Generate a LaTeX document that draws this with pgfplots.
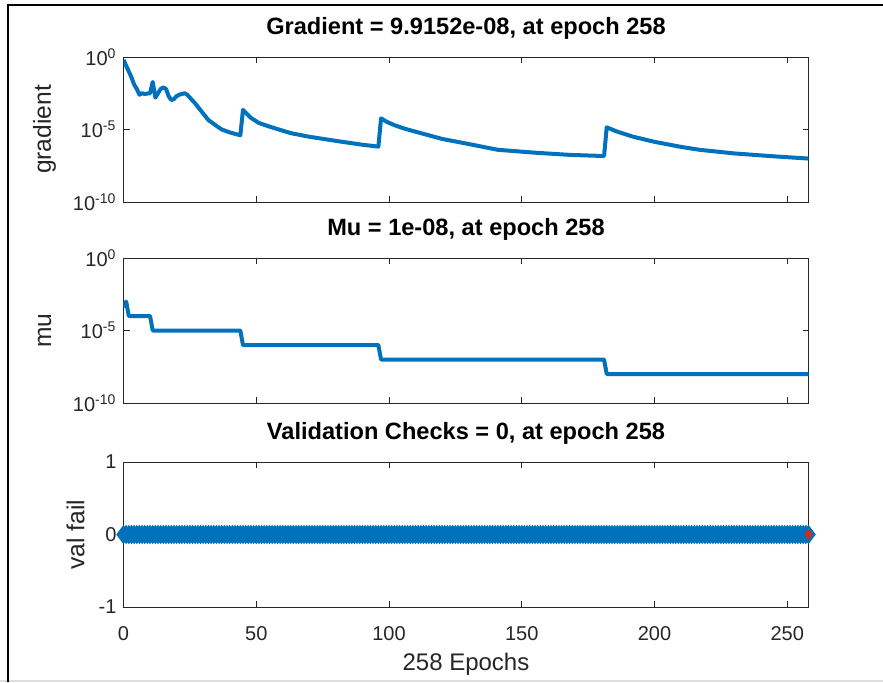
\documentclass[border=0pt]{standalone}
\usepackage{fontspec}
\setmainfont{Liberation Sans}
\usepackage{pgfplots}
\pgfplotsset{compat=1.18}
\definecolor{mblue}{RGB}{0,114,189}
\definecolor{mgray}{RGB}{38,38,38}
\definecolor{mred}{RGB}{205,45,30}
\pgfplotsset{
 mstyle/.style={
  scale only axis, width=342.5pt, height=72.5pt, anchor=south west,
  xmin=0, xmax=258, xtick={0,50,100,150,200,250},
  tick align=inside, major tick length=3pt,
  axis line style={draw=mgray, line width=0.5pt},
  every tick/.style={mgray, line width=0.5pt},
  tick label style={font=\fontsize{10}{12}\selectfont, text=mgray},
  /pgf/number format/assume math mode=true,
  title style={at={(axis description cs:0.5,1)}, anchor=base, yshift=5.25pt, font=\bfseries\fontsize{11.8}{14}\selectfont, text=black},
  ylabel style={at={(axis description cs:-0.1153,0.5)}, anchor=center, font=\fontsize{12.3}{14}\selectfont, text=mgray},
  xlabel style={at={(axis description cs:0.5,0)}, anchor=base, yshift=-31.5pt, font=\fontsize{12}{14}\selectfont, text=mgray},
  xticklabel style={anchor=base, yshift=-16.75pt},
  yminorticks=false, xminorticks=false,
 },
 logstyle/.style={
  ymin=1e-10, ymax=1,
  ytick={1e-10,1e-5,1},
  yticklabels={10\textsuperscript{-10},10\textsuperscript{-5},10\textsuperscript{0}},
  xticklabels={,,,,,},
 }
}
\begin{document}
\begin{tikzpicture}
\path[use as bounding box] (0,0) rectangle (441.5pt,341pt);
\draw[gray!25, line width=1pt] (0,0.5pt) -- (441.5pt,0.5pt);
\draw[black, line width=1pt] (4pt,0) -- (4pt,338.5pt) -- (441.5pt,338.5pt);

\begin{semilogyaxis}[mstyle, logstyle, at={(61.75pt,240pt)},
  title={Gradient = 9.9152e-08, at epoch 258}, ylabel={gradient}]
\addplot[mblue, line width=2pt, line join=round] coordinates {
(0,0.631)(1,0.251)(2,0.1)(3,0.0398)(4,0.0126)(5,0.00631)(6,0.00251)(7,0.00316)(8,0.00282)(9,0.00302)(10,0.00316)(11,0.0191)(12,0.00158)(13,0.00316)(14,0.00631)(15,0.00794)(16,0.00631)(17,0.002)(18,0.00107)(19,0.00126)(20,0.002)(21,0.00251)(22,0.00282)(23,0.00316)(24,0.00251)(25,0.00158)(27,6.31e-4)(30,1.26e-4)(32,4.47e-5)(35,1.78e-5)(37,1e-5)(40,6.31e-6)(44,3.98e-6)
(45,2.24e-4)(48,6.31e-5)(51,2.82e-5)(55,1.58e-5)(63,5.62e-6)(70,3.16e-6)(82,1.45e-6)(90,8.91e-7)(96,6.61e-7)
(97,5.89e-5)(99,3.5e-5)(102,2e-5)(106,1.12e-5)(112,5.6e-6)(120,2.24e-6)(130,1e-6)(141,3.98e-7)(155,2.51e-7)(168,1.78e-7)(181,1.48e-7)
(182,1.41e-5)(186,7.08e-6)(192,3.16e-6)(200,1.41e-6)(210,6.31e-7)(217,3.98e-7)(230,2.24e-7)(245,1.41e-7)(258,9.9152e-8)
};
\end{semilogyaxis}

\begin{semilogyaxis}[mstyle, logstyle, at={(61.75pt,139.5pt)},
  title={Mu = 1e-08, at epoch 258}, ylabel={mu}]
\addplot[mblue, line width=2pt, line join=round] coordinates {
(0,4e-4)(1,1e-3)(2,1e-4)(10,1e-4)(11,1e-5)(44,1e-5)(45,1e-6)(96,1e-6)(97,1e-7)(181,1e-7)(182,1e-8)(258,1e-8)
};
\end{semilogyaxis}

\begin{axis}[mstyle, at={(61.75pt,37.5pt)}, clip=false,
  ymin=-1, ymax=1, ytick={-1,0,1},
  title={Validation Checks = 0, at epoch 258},
  ylabel={val fail}, ylabel style={at={(axis description cs:-0.070,0.5)}},
  xlabel={258 Epochs}]
\addplot[mblue, line width=1pt, mark=diamond*, mark size=4pt, mark options={fill=mblue, draw=mblue}] coordinates {
(0,0)(1,0)(2,0)(3,0)(4,0)(5,0)(6,0)(7,0)(8,0)(9,0)
(10,0)(11,0)(12,0)(13,0)(14,0)(15,0)(16,0)(17,0)(18,0)(19,0)
(20,0)(21,0)(22,0)(23,0)(24,0)(25,0)(26,0)(27,0)(28,0)(29,0)
(30,0)(31,0)(32,0)(33,0)(34,0)(35,0)(36,0)(37,0)(38,0)(39,0)
(40,0)(41,0)(42,0)(43,0)(44,0)(45,0)(46,0)(47,0)(48,0)(49,0)
(50,0)(51,0)(52,0)(53,0)(54,0)(55,0)(56,0)(57,0)(58,0)(59,0)
(60,0)(61,0)(62,0)(63,0)(64,0)(65,0)(66,0)(67,0)(68,0)(69,0)
(70,0)(71,0)(72,0)(73,0)(74,0)(75,0)(76,0)(77,0)(78,0)(79,0)
(80,0)(81,0)(82,0)(83,0)(84,0)(85,0)(86,0)(87,0)(88,0)(89,0)
(90,0)(91,0)(92,0)(93,0)(94,0)(95,0)(96,0)(97,0)(98,0)(99,0)
(100,0)(101,0)(102,0)(103,0)(104,0)(105,0)(106,0)(107,0)(108,0)(109,0)
(110,0)(111,0)(112,0)(113,0)(114,0)(115,0)(116,0)(117,0)(118,0)(119,0)
(120,0)(121,0)(122,0)(123,0)(124,0)(125,0)(126,0)(127,0)(128,0)(129,0)
(130,0)(131,0)(132,0)(133,0)(134,0)(135,0)(136,0)(137,0)(138,0)(139,0)
(140,0)(141,0)(142,0)(143,0)(144,0)(145,0)(146,0)(147,0)(148,0)(149,0)
(150,0)(151,0)(152,0)(153,0)(154,0)(155,0)(156,0)(157,0)(158,0)(159,0)
(160,0)(161,0)(162,0)(163,0)(164,0)(165,0)(166,0)(167,0)(168,0)(169,0)
(170,0)(171,0)(172,0)(173,0)(174,0)(175,0)(176,0)(177,0)(178,0)(179,0)
(180,0)(181,0)(182,0)(183,0)(184,0)(185,0)(186,0)(187,0)(188,0)(189,0)
(190,0)(191,0)(192,0)(193,0)(194,0)(195,0)(196,0)(197,0)(198,0)(199,0)
(200,0)(201,0)(202,0)(203,0)(204,0)(205,0)(206,0)(207,0)(208,0)(209,0)
(210,0)(211,0)(212,0)(213,0)(214,0)(215,0)(216,0)(217,0)(218,0)(219,0)
(220,0)(221,0)(222,0)(223,0)(224,0)(225,0)(226,0)(227,0)(228,0)(229,0)
(230,0)(231,0)(232,0)(233,0)(234,0)(235,0)(236,0)(237,0)(238,0)(239,0)
(240,0)(241,0)(242,0)(243,0)(244,0)(245,0)(246,0)(247,0)(248,0)(249,0)
(250,0)(251,0)(252,0)(253,0)(254,0)(255,0)(256,0)(257,0)(258,0)
};
\addplot[only marks, mark=diamond*, mark size=2.5pt, mark options={fill=mred, draw=mred}] coordinates {(258,0)};
\end{axis}
\end{tikzpicture}
\end{document}
